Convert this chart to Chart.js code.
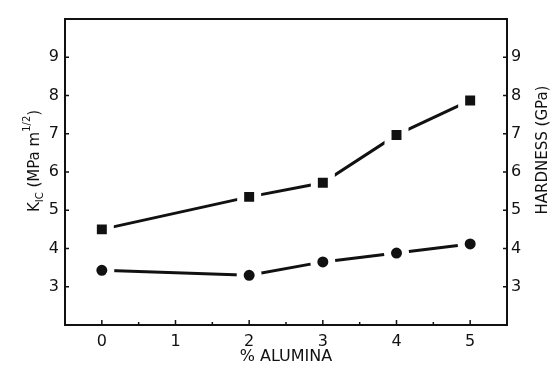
<!DOCTYPE html>
<html>
<head>
<meta charset="utf-8">
<script src="https://cdn.jsdelivr.net/npm/chart.js@4/dist/chart.umd.min.js"></script>
<style>
  html, body { margin: 0; padding: 0; background: #fff; }
  #wrap { width: 551px; height: 366px; position: relative; }
</style>
</head>
<body>
<div id="wrap"><canvas id="aluminaChart"></canvas></div>
<script>
const alumina = [0, 2, 3, 4, 5];
const hardness = [4.5, 5.35, 5.72, 6.97, 7.87];
const toughness = [3.43, 3.3, 3.65, 3.88, 4.12];
const xTickLabels = [0, 1, 2, 3, 4, 5];
const yTickLabels = [3, 4, 5, 6, 7, 8, 9];

const ink = '#111';
const fontFamily = '"DejaVu Sans", sans-serif';

function toPoints(xs, ys) {
    return xs.map((x, i) => ({ x: x, y: ys[i] }));
}

// frame, inward ticks and the two vertical titles
const frameAndTitles = {
    id: 'frameAndTitles',
    afterDraw(chart) {
        const ctx = chart.ctx;
        const a = chart.chartArea;
        const sx = chart.scales.x;
        const sy = chart.scales.y;
        const sy1 = chart.scales.y1;

        ctx.save();
        ctx.strokeStyle = ink;
        ctx.lineWidth = 2;
        ctx.strokeRect(a.left, a.top, a.right - a.left, a.bottom - a.top);

        ctx.lineWidth = 1.5;
        ctx.beginPath();
        sx.ticks.forEach(t => {
            if (t.value <= sx.min || t.value >= sx.max) return;
            const px = sx.getPixelForValue(t.value);
            const len = xTickLabels.includes(t.value) ? 5 : 3;
            ctx.moveTo(px, a.bottom);
            ctx.lineTo(px, a.bottom - len);
        });
        yTickLabels.forEach(v => {
            const py = sy.getPixelForValue(v);
            ctx.moveTo(a.left, py);
            ctx.lineTo(a.left + 4, py);
            const py1 = sy1.getPixelForValue(v);
            ctx.moveTo(a.right, py1);
            ctx.lineTo(a.right - 4, py1);
        });
        ctx.stroke();

        ctx.fillStyle = ink;
        ctx.textBaseline = 'alphabetic';

        // left title: K_IC (MPa m^1/2)
        const big = '15px ' + fontFamily;
        const small = '10px ' + fontFamily;
        const parts = [
            { t: 'K', f: big, dy: 0 },
            { t: 'IC', f: small, dy: 4 },
            { t: ' (MPa m', f: big, dy: 0 },
            { t: '1/2', f: small, dy: -9 },
            { t: ')', f: big, dy: 0 }
        ];
        let total = 0;
        parts.forEach(p => { ctx.font = p.f; p.w = ctx.measureText(p.t).width; total += p.w; });
        ctx.save();
        ctx.translate(39, 161);
        ctx.rotate(-Math.PI / 2);
        let cx = -total / 2;
        parts.forEach(p => {
            ctx.font = p.f;
            ctx.fillText(p.t, cx, p.dy);
            cx += p.w;
        });
        ctx.restore();

        // right title
        ctx.save();
        ctx.translate(543, 150);
        ctx.rotate(-Math.PI / 2);
        ctx.font = big;
        ctx.textAlign = 'center';
        ctx.textBaseline = 'middle';
        ctx.fillText('HARDNESS (GPa)', 0, 0);
        ctx.restore();

        ctx.restore();
    }
};

new Chart(document.getElementById('aluminaChart'), {
    type: 'line',
    data: {
        datasets: [
            {
                label: 'Hardness',
                data: toPoints(alumina, hardness),
                yAxisID: 'y1',
                borderColor: ink,
                borderWidth: 3,
                pointStyle: 'rect',
                pointRadius: 12,
                pointBackgroundColor: ink,
                pointBorderColor: '#fff',
                pointBorderWidth: 7,
                tension: 0
            },
            {
                label: 'KIC',
                data: toPoints(alumina, toughness),
                yAxisID: 'y',
                borderColor: ink,
                borderWidth: 3,
                pointStyle: 'circle',
                pointRadius: 9,
                pointBackgroundColor: ink,
                pointBorderColor: '#fff',
                pointBorderWidth: 7,
                tension: 0
            }
        ]
    },
    options: {
        responsive: true,
        maintainAspectRatio: false,
        animation: false,
        layout: { padding: { top: 17, left: 0, right: 0, bottom: 0 } },
        plugins: {
            legend: { display: false },
            tooltip: { enabled: false }
        },
        scales: {
            x: {
                type: 'linear',
                min: -0.5,
                max: 5.5,
                grid: { display: false, drawTicks: false },
                border: { display: false },
                ticks: {
                    stepSize: 0.5,
                    autoSkip: false,
                    maxRotation: 0,
                    padding: 7,
                    color: ink,
                    font: { family: fontFamily, size: 16 },
                    callback: v => xTickLabels.includes(v) ? String(v) : ''
                },
                title: {
                    display: true,
                    text: '% ALUMINA',
                    color: ink,
                    font: { family: fontFamily, size: 16 },
                    padding: { top: 0, bottom: 0 }
                },
                afterFit: s => { s.height = 41; }
            },
            y: {
                position: 'left',
                min: 2,
                max: 10,
                grid: { display: false, drawTicks: false },
                border: { display: false },
                ticks: {
                    stepSize: 1,
                    padding: 6,
                    color: ink,
                    font: { family: fontFamily, size: 16 },
                    callback: v => yTickLabels.includes(v) ? String(v) : ''
                },
                afterFit: s => { s.width = 65; }
            },
            y1: {
                position: 'right',
                min: 2,
                max: 10,
                grid: { display: false, drawTicks: false },
                border: { display: false },
                ticks: {
                    stepSize: 1,
                    padding: 4,
                    color: ink,
                    font: { family: fontFamily, size: 16 },
                    callback: v => yTickLabels.includes(v) ? String(v) : ''
                },
                afterFit: s => { s.width = 44; }
            }
        }
    },
    plugins: [frameAndTitles]
});
</script>
</body>
</html>
